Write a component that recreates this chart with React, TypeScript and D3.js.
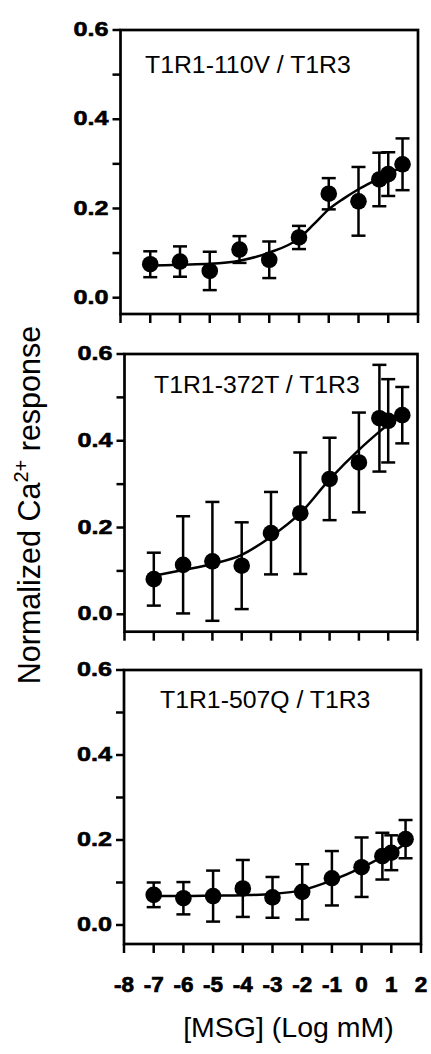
import React from "react";
import * as d3 from "d3";

// ---- data ----
const logConc = [-7, -6, -5, -4, -3, -2, -1, 0, 0.7, 1, 1.48];

const titles = ["T1R1-110V / T1R3", "T1R1-372T / T1R3", "T1R1-507Q / T1R3"];

const mean110V = [0.075, 0.081, 0.06, 0.108, 0.085, 0.135, 0.233, 0.216, 0.265, 0.277, 0.299];
const err110V = [0.029, 0.034, 0.043, 0.03, 0.041, 0.026, 0.035, 0.077, 0.06, 0.049, 0.058];
const fitX110V = [-7, -6, -5, -4, -3, -2, -1.5, -1, -0.5, 0, 0.7, 1, 1.48];
const fitY110V = [0.072, 0.074, 0.076, 0.083, 0.101, 0.133, 0.165, 0.198, 0.222, 0.243, 0.268, 0.279, 0.292];

const mean372T = [0.081, 0.114, 0.122, 0.112, 0.187, 0.233, 0.312, 0.35, 0.452, 0.446, 0.459];
const err372T = [0.061, 0.112, 0.137, 0.1, 0.095, 0.14, 0.095, 0.115, 0.123, 0.096, 0.065];
const fitX372T = [-7, -6, -5, -4, -3, -2, -1, 0, 0.7, 1, 1.48];
const fitY372T = [0.089, 0.102, 0.116, 0.137, 0.179, 0.233, 0.311, 0.379, 0.421, 0.438, 0.462];

const mean507Q = [0.071, 0.063, 0.068, 0.086, 0.065, 0.078, 0.11, 0.136, 0.162, 0.17, 0.202];
const err507Q = [0.029, 0.038, 0.06, 0.067, 0.048, 0.065, 0.064, 0.07, 0.055, 0.041, 0.045];
const fitX507Q = [-7, -6, -5, -4, -3, -2, -1, 0, 0.7, 1, 1.48];
const fitY507Q = [0.068, 0.068, 0.069, 0.07, 0.073, 0.082, 0.105, 0.135, 0.16, 0.17, 0.192];

const xTicks = [-8, -7, -6, -5, -4, -3, -2, -1, 0, 1, 2];
const yTicks = [0, 0.1, 0.2, 0.3, 0.4, 0.5, 0.6];
const yLabelTicks = [0, 0.2, 0.4, 0.6];

const xDomain: [number, number] = [-8, 2];
const yDomain: [number, number] = [0, 0.6];

// ---- layout ----
const panels = [
  { top: 30, zero: 297.7, bottom: 314, left: 120.5, right: 418, titleX: 145, titleY: 73, mean: mean110V, err: err110V, fx: fitX110V, fy: fitY110V },
  { top: 354, zero: 614.3, bottom: 631.7, left: 124.5, right: 417.5, titleX: 154, titleY: 393, mean: mean372T, err: err372T, fx: fitX372T, fy: fitY372T },
  { top: 670, zero: 925, bottom: 944, left: 124, right: 421, titleX: 160, titleY: 708, mean: mean507Q, err: err507Q, fx: fitX507Q, fy: fitY507Q },
];

const FONT = "'Liberation Sans', Arial, Helvetica, sans-serif";
const fmt = d3.format(".1f");

function Panel({ p, idx, showXLabels }: any) {
  const x = d3.scaleLinear().domain(xDomain).range([p.left, p.right]);
  const y = d3.scaleLinear().domain(yDomain).range([p.zero, p.top]);
  const line = d3
    .line<number>()
    .x((_, i) => x(p.fx[i]))
    .y((v) => y(v))
    .curve(d3.curveMonotoneX);
  const cap = 7;
  return (
    <g>
      {/* frame */}
      <rect
        x={p.left}
        y={p.top}
        width={p.right - p.left}
        height={p.bottom - p.top}
        fill="none"
        stroke="#000"
        strokeWidth={2.7}
      />
      {/* y ticks */}
      {yTicks.map((t) => (
        <line key={"yt" + t} x1={p.left - 8} x2={p.left} y1={y(t)} y2={y(t)} stroke="#000" strokeWidth={2.5} />
      ))}
      {yLabelTicks.map((t) => (
        <text
          key={"yl" + t}
          x={p.left - 47}
          y={y(t)}
          dy="0.3em"
          textLength={35}
          lengthAdjust="spacingAndGlyphs"
          fontFamily={FONT}
          fontWeight="bold"
          fontSize={20.5}
          stroke="#000"
          strokeWidth={0.6}
        >
          {fmt(t)}
        </text>
      ))}
      {/* x ticks */}
      {xTicks.map((t) => (
        <line key={"xt" + t} x1={x(t)} x2={x(t)} y1={p.bottom} y2={p.bottom + 9} stroke="#000" strokeWidth={2.5} />
      ))}
      {showXLabels &&
        xTicks.map((t) => (
          <text
            key={"xl" + t}
            x={x(t)}
            y={991.5}
            textAnchor="middle"
            fontFamily={FONT}
            fontWeight="bold"
            fontSize={22.5}
            stroke="#000"
            strokeWidth={0.7}
          >
            {String(t)}
          </text>
        ))}
      {/* title */}
      <text x={p.titleX} y={p.titleY} fontFamily={FONT} fontSize={24.8}>
        {titles[idx]}
      </text>
      {/* fit curve */}
      <path d={line(p.fy) || ""} fill="none" stroke="#000" strokeWidth={2.5} />
      {/* error bars */}
      {logConc.map((c, i) => {
        const cx = x(c);
        const y1 = y(p.mean[i] + p.err[i]);
        const y2 = y(p.mean[i] - p.err[i]);
        return (
          <g key={"e" + i} stroke="#000" strokeWidth={2.5}>
            <line x1={cx} x2={cx} y1={y1} y2={y2} />
            <line x1={cx - cap} x2={cx + cap} y1={y1} y2={y1} />
            <line x1={cx - cap} x2={cx + cap} y1={y2} y2={y2} />
          </g>
        );
      })}
      {/* markers */}
      {logConc.map((c, i) => (
        <circle key={"m" + i} cx={x(c)} cy={y(p.mean[i])} r={8.3} fill="#000" />
      ))}
    </g>
  );
}

export default function App() {
  return (
    <svg
      width={431}
      height={1054}
      style={{ position: "absolute", left: 0, top: 0, background: "#fff" }}
    >
      <rect x={0} y={0} width={431} height={1054} fill="#fff" />
      {panels.map((p, i) => (
        <Panel key={i} p={p} idx={i} showXLabels={i === 2} />
      ))}
      <text x={288.5} y={1037} textAnchor="middle" fontFamily={FONT} fontSize={28.5}>
        [MSG] (Log mM)
      </text>
      <text
        transform="translate(40,505) rotate(-90)"
        textAnchor="middle"
        fontFamily={FONT}
        fontSize={30.5}
      >
        Normalized Ca
        <tspan fontSize={20} dy={-12}>
          2+
        </tspan>
        <tspan dy={12}> response</tspan>
      </text>
    </svg>
  );
}
